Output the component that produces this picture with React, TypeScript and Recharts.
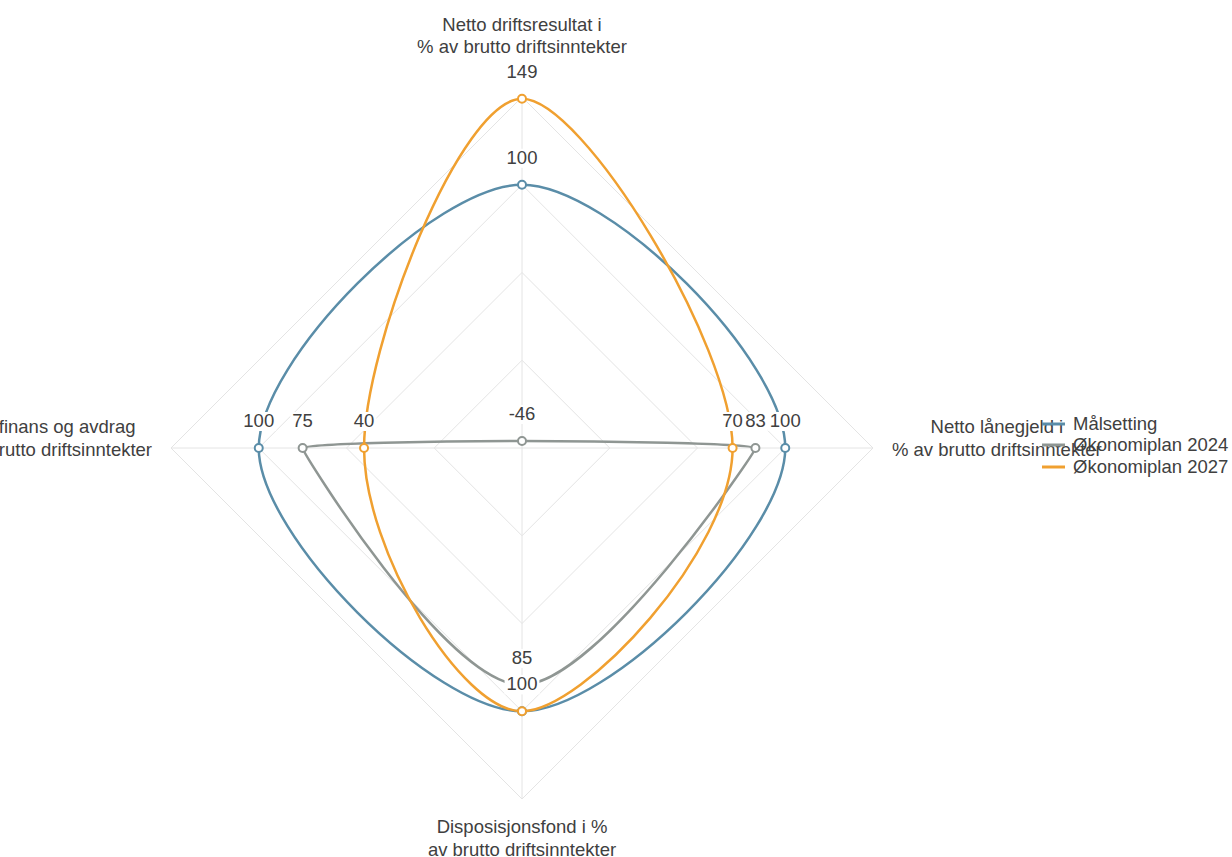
import React from "react";
import {
  RadarChart,
  Radar,
  PolarGrid,
  PolarAngleAxis,
  PolarRadiusAxis,
  Legend,
} from "recharts";

// axis labels, clockwise from the top (\n = line break)
const axisLabels = [
  "Netto driftsresultat i\n% av brutto driftsinntekter",
  "Netto lånegjeld i\n% av brutto driftsinntekter",
  "Disposisjonsfond i %\nav brutto driftsinntekter",
  "Netto finans og avdrag\ni % av brutto driftsinntekter",
];

const seriesNames = ["Målsetting", "Økonomiplan 2024", "Økonomiplan 2027"];
const malsetting = [100, 100, 100, 100];
const okonomiplan2024 = [-46, 83, 85, 75];
const okonomiplan2027 = [149, 70, 100, 40];

const radiusDomain = [-50, 150];

const COLORS = ["#5a8da8", "#8f9693", "#f0a030"];
const FONT = "'Liberation Sans', Arial, sans-serif";
const FS = 18.5;
const TEXT = "#404040";
const CX = 522;
const CY = 448;
const R = 351;

const data = axisLabels.map((axis, i) => ({
  axis,
  s0: malsetting[i],
  s1: okonomiplan2024[i],
  s2: okonomiplan2027[i],
}));

let ctx: CanvasRenderingContext2D | null = null;
function textWidth(s: string) {
  if (!ctx) ctx = document.createElement("canvas").getContext("2d");
  if (!ctx) return s.length * 9;
  ctx.font = `${FS}px ${FONT}`;
  return ctx.measureText(s).width;
}

// closed curve, monotone tangents per coordinate (no overshoot)
function smoothClosed(pts: { x: number; y: number }[]) {
  const n = pts.length;
  const tan = (i: number, k: "x" | "y") => {
    const a = pts[(i - 1 + n) % n][k];
    const b = pts[i][k];
    const c = pts[(i + 1) % n][k];
    const s0 = b - a;
    const s1 = c - b;
    if (s0 * s1 <= 0) return 0;
    const p = (s0 + s1) / 2;
    return (Math.sign(s0) + Math.sign(s1)) * Math.min(Math.abs(s0), Math.abs(s1), 0.5 * Math.abs(p));
  };
  const m = pts.map((_, i) => ({ x: tan(i, "x"), y: tan(i, "y") }));
  let d = `M${pts[0].x},${pts[0].y}`;
  for (let i = 0; i < n; i++) {
    const j = (i + 1) % n;
    d += ` C${pts[i].x + m[i].x / 3},${pts[i].y + m[i].y / 3} ${pts[j].x - m[j].x / 3},${pts[j].y - m[j].y / 3} ${pts[j].x},${pts[j].y}`;
  }
  return d;
}

const SmoothShape = (props: any) => {
  const { points, color } = props;
  if (!points || !points.length) return null;
  return (
    <g>
      <path d={smoothClosed(points)} fill="none" stroke={color} strokeWidth={2.5} />
      {points.map((p: any, i: number) => (
        <circle key={"d" + i} cx={p.x} cy={p.y} r={4} fill="#fff" stroke={color} strokeWidth={2} />
      ))}
      {points.map((p: any, i: number) => {
        const label = String(p.value);
        const w = textWidth(label) + 4;
        return (
          <g key={"l" + i}>
            <rect x={p.x - w / 2} y={p.y - 36} width={w} height={19} fill="#fff" />
            <text x={p.x} y={p.y - 21} textAnchor="middle" fontSize={FS} fontFamily={FONT} fill={TEXT}>
              {label}
            </text>
          </g>
        );
      })}
    </g>
  );
};

const AngleTick = (props: any) => {
  const { x, y, payload } = props;
  const lines: string[] = String(payload.value).split("\n");
  const dx = x - CX;
  const dy = y - CY;
  let ax = x;
  let ys: number[];
  if (Math.abs(dx) < 1) {
    ys =
      dy < 0
        ? lines.map((_, i) => y - 36 - (lines.length - 1 - i) * 22.5)
        : lines.map((_, i) => y + 26 + i * 22.5);
  } else {
    const w = Math.max(...lines.map(textWidth));
    ax = dx > 0 ? x + 11 + w / 2 : x - 11 - w / 2;
    ys = lines.map((_, i) => y - 15 + i * 22.5);
  }
  return (
    <g>
      {lines.map((l, i) => (
        <text key={i} x={ax} y={ys[i]} textAnchor="middle" fontSize={FS} fontFamily={FONT} fill={TEXT}>
          {l}
        </text>
      ))}
    </g>
  );
};

const renderLegend = () => (
  <div style={{ fontFamily: FONT, fontSize: FS, color: TEXT }}>
    {seriesNames.map((name, i) => (
      <div key={name} style={{ display: "flex", alignItems: "center", height: 21.5, whiteSpace: "nowrap" }}>
        <svg width={23} height={8} style={{ marginRight: 8 }}>
          <line x1={0} y1={4} x2={23} y2={4} stroke={COLORS[i]} strokeWidth={3} />
        </svg>
        <span>{name}</span>
      </div>
    ))}
  </div>
);

export default function App() {
  const keys = ["s0", "s1", "s2"];
  return (
    <div style={{ position: "absolute", left: 0, top: 0, background: "#fff" }}>
      <RadarChart
        width={1232}
        height={857}
        data={data}
        cx={CX}
        cy={CY}
        outerRadius={R}
        margin={{ top: 0, right: 0, bottom: 0, left: 0 }}
      >
        <PolarGrid stroke="#e4e4e4" strokeWidth={1} />
        <PolarAngleAxis dataKey="axis" tick={<AngleTick />} tickLine={false} axisLine={false} />
        <PolarRadiusAxis
          angle={90}
          domain={radiusDomain}
          tickCount={5}
          tick={false}
          axisLine={false}
        />
        {keys.map((k, i) => (
          <Radar
            key={k}
            name={seriesNames[i]}
            dataKey={k}
            stroke={COLORS[i]}
            fill="none"
            dot={false}
            isAnimationActive={false}
            shape={(p: any) => <SmoothShape {...p} color={COLORS[i]} />}
          />
        ))}
        <Legend
          layout="vertical"
          verticalAlign="middle"
          align="right"
          wrapperStyle={{ position: "absolute", left: 1042, top: 413, width: 190 }}
          content={renderLegend}
        />
      </RadarChart>
    </div>
  );
}
